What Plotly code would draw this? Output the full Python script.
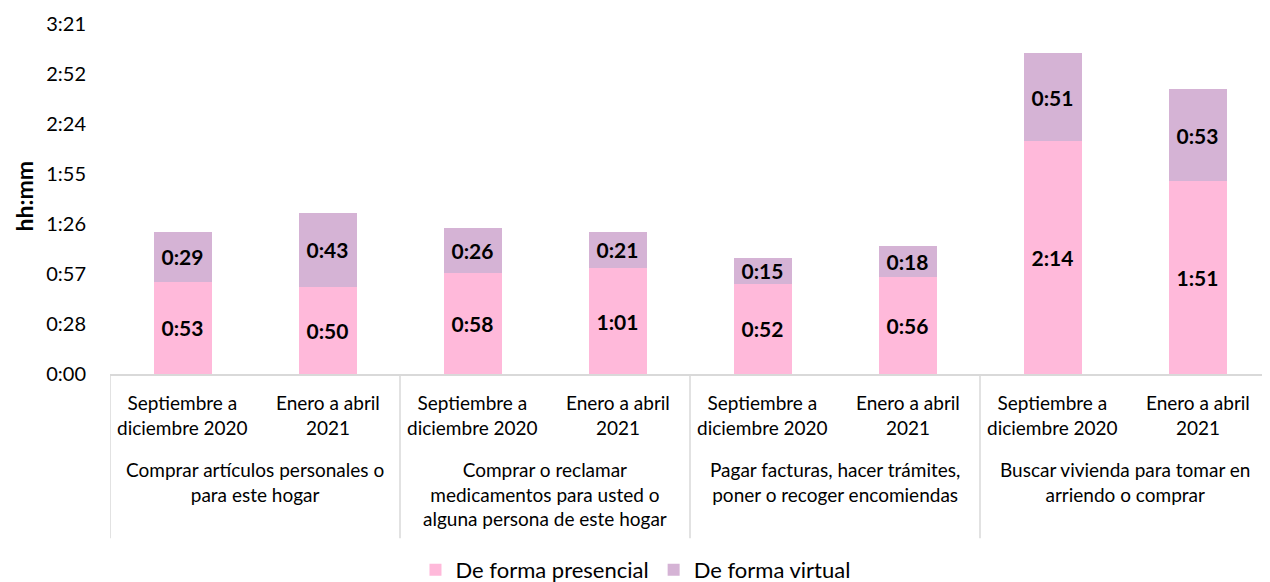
import plotly.graph_objects as go

groups = [
    "Comprar artículos personales o<br>para este hogar",
    "Comprar o reclamar<br>medicamentos para usted o<br>alguna persona de este hogar",
    "Pagar facturas, hacer trámites,<br>poner o recoger encomiendas",
    "Buscar vivienda para tomar en<br>arriendo o comprar",
]
periods = ["Septiembre a<br>diciembre 2020", "Enero a abril<br>2021"]

# minutes
presencial = [53, 50, 58, 61, 52, 56, 134, 111]
virtual = [29, 43, 26, 21, 15, 18, 51, 53]

tick_minutes = [0, 28.8, 57.6, 86.4, 115.2, 144.0, 172.8, 201.6]


def hm(m):
    m = int(m + 1e-6)
    return f"{m // 60}:{m % 60:02d}"


n_per = len(periods)
xpos = list(range(len(presencial)))

FONT = "Lato"
PINK = "#FFB9DA"
PURPLE = "#D5B3D5"
GRID = "#D9D9D9"

fig = go.Figure()
for name, vals, col in [("De forma presencial", presencial, PINK),
                        ("De forma virtual", virtual, PURPLE)]:
    fig.add_trace(go.Bar(
        x=xpos, y=vals, name=name, width=0.4,
        marker=dict(color=col, line=dict(width=0)),
        text=[hm(v) for v in vals], textposition="inside",
        insidetextanchor="middle", constraintext="none",
        textfont=dict(family=FONT, size=21, color="black", weight="bold"),
    ))

annotations = []
shapes = []
for gi, g in enumerate(groups):
    for pi, p in enumerate(periods):
        annotations.append(dict(
            x=gi * n_per + pi, xref="x", y=-0.117, yref="paper",
            text=p, showarrow=False, yanchor="middle", xanchor="center",
            font=dict(family=FONT, size=19, color="black"),
        ))
    annotations.append(dict(
        x=gi * n_per + (n_per - 1) / 2, xref="x", y=-0.234, yref="paper",
        text=g, showarrow=False, yanchor="top", xanchor="center",
        font=dict(family=FONT, size=19, color="black"),
    ))
    shapes.append(dict(
        type="line", xref="x", yref="paper",
        x0=gi * n_per - 0.5, x1=gi * n_per - 0.5, y0=0, y1=-0.469,
        line=dict(color=GRID, width=1.5),
    ))

annotations.append(dict(
    x=-0.0745, xref="paper", y=0.506, yref="paper", text="hh:mm",
    textangle=-90, showarrow=False, xanchor="center", yanchor="middle",
    font=dict(family=FONT, size=23, color="black", weight="bold"),
))

# page body has an 8px margin: canvas shrunk/offset to land on 1270x582
fig.update_layout(
    barmode="stack",
    width=1262, height=574,
    margin=dict(l=102, r=0, t=16, b=208, autoexpand=False),
    plot_bgcolor="white", paper_bgcolor="white",
    font=dict(family=FONT, size=19, color="black"),
    legend=dict(orientation="h", x=0.453, xanchor="center", y=-0.56,
                yanchor="middle", font=dict(size=22), itemwidth=30,
                traceorder="normal"),
    showlegend=True,
    annotations=annotations,
    shapes=shapes,
)
fig.update_xaxes(
    range=[-0.5, len(xpos) - 0.5], showticklabels=False,
    showline=True, linecolor=GRID, linewidth=1.5,
    showgrid=False, zeroline=False, ticks="", automargin=False,
)
fig.update_yaxes(
    range=[0, 201.6], tickvals=tick_minutes,
    ticktext=[hm(v) for v in tick_minutes],
    showgrid=False, zeroline=False, showline=False,
    tickfont=dict(family=FONT, size=20),
    ticklabelstandoff=23, automargin=False,
)

fig.write_html("out.html")
